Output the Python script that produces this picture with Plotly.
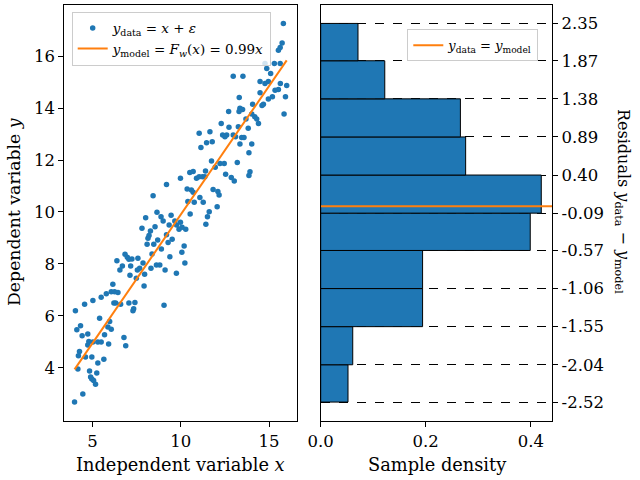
import plotly.graph_objects as go

# ---------------- data ----------------
x_data = [15.81, 15.74, 15.63, 15.53, 14.77, 14.87, 15.30, 15.63, 12.97, 13.52,
          15.09, 14.96, 14.77, 14.49, 15.64, 16.00, 15.34, 15.53, 14.49, 15.19,
          14.96, 15.93, 13.31, 14.68, 14.60, 15.85, 14.07, 12.71, 13.35, 13.50,
          13.30, 14.02, 14.19, 14.30, 14.40, 13.69, 12.29, 12.73, 13.26, 13.82,
          11.04, 11.65, 12.37, 12.60, 12.50, 12.97, 13.10, 13.45, 13.58, 14.02,
          13.35, 11.14, 11.46, 11.78,
          13.86, 11.74, 12.22, 12.46, 13.20, 11.95, 13.92, 13.86, 11.40, 10.51,
          10.70, 9.98, 10.89, 11.04, 11.23, 11.36, 12.54, 12.86, 13.03, 9.19,
          10.36, 10.60, 10.70, 11.83, 12.10, 12.17, 8.43, 11.08, 10.40, 10.76,
          11.27, 12.06, 11.61, 10.53, 8.65, 8.88, 9.00, 9.45, 8.01, 11.51,
          11.42, 9.66, 9.76, 9.34, 9.98, 10.07, 10.28, 9.90, 7.80, 8.28,
          8.20, 8.14, 8.54, 9.19, 9.51, 9.28, 8.69, 8.47, 8.09, 8.90,
          10.19, 10.06, 8.37, 9.38, 6.84, 6.97, 7.06, 7.23, 6.38, 7.57,
          7.86, 10.23, 6.69, 7.16, 6.55, 8.62, 8.81, 7.67, 7.54, 7.95,
          9.11, 8.31, 7.12, 9.75, 7.48, 6.15, 7.92, 6.06, 6.25, 6.44,
          5.78, 5.49, 5.02,
          9.05, 4.03, 4.55, 6.21, 6.31, 6.59, 7.06, 7.40, 7.33, 7.29,
          5.40, 5.97, 4.32, 4.11, 4.41, 4.73, 5.87, 6.06, 5.68, 6.78,
          4.79, 5.02, 5.30, 5.49, 4.73, 5.91, 6.88, 4.26, 4.20, 4.60,
          4.96, 5.64, 5.30, 4.17, 4.83, 5.24, 4.89, 4.96, 5.06, 5.17,
          4.45, 3.98]
y_data = [17.26, 16.51, 16.33, 16.23, 15.72, 15.53, 15.72, 15.72, 15.23, 15.23,
          15.33, 15.02, 14.95, 15.02, 14.95, 14.87, 14.69, 14.72, 14.59, 14.44,
          14.35, 14.44, 14.41, 14.15, 14.10, 13.77, 14.15, 13.87, 13.99, 13.95,
          13.87, 13.77, 13.67, 13.58, 13.41, 13.58, 13.41, 13.26, 13.28, 13.22,
          13.03, 13.09, 12.96, 12.96, 12.90, 12.96, 12.90, 12.87, 12.87, 12.62,
          12.62, 12.48, 12.67, 12.70,
          12.28, 11.96, 11.87, 11.87, 11.91, 11.72, 11.55, 11.40, 11.58, 11.52,
          11.56, 11.30, 11.30, 11.36, 11.36, 11.36, 11.45, 11.33, 11.19, 11.06,
          10.88, 10.85, 10.76, 10.87, 10.79, 10.65, 10.62, 10.56, 10.40, 10.37,
          10.37, 10.20, 10.01, 9.92, 9.99, 9.82, 9.65, 9.87, 9.78, 9.82,
          9.53, 9.65, 9.50, 9.50, 9.60, 9.41, 9.33, 9.33, 9.37, 9.27,
          9.09, 8.99, 9.43, 9.12, 8.95, 8.82, 8.92, 8.76, 8.76, 8.57,
          8.69, 8.45, 8.38, 8.28, 8.37, 8.26, 8.18, 8.19, 8.12, 8.22,
          8.03, 8.03, 7.92, 7.92, 7.77, 7.96, 7.96, 7.83, 7.77, 7.60,
          7.77, 7.83, 7.56, 7.64, 7.45, 7.22, 7.15, 6.93, 6.93, 6.90,
          6.85, 6.72, 6.59,
          6.41, 6.20, 6.45, 6.49, 6.49, 6.45, 6.49, 6.51, 6.27, 6.20,
          5.91, 5.78, 5.62, 5.46, 5.23, 5.30, 5.57, 5.48, 5.27, 5.17,
          5.01, 4.99, 4.99, 4.99, 4.88, 4.92, 4.85, 4.63, 4.46, 4.41,
          4.41, 4.33, 4.18, 3.95, 3.88, 3.80, 3.64, 3.57, 3.51, 3.37,
          2.99, 2.68]
slope = 0.99

bin_edges = [-2.52, -2.04, -1.55, -1.06, -0.57, -0.09, 0.40, 0.89, 1.38, 1.87, 2.35]
bin_labels = ["-2.52", "-2.04", "-1.55", "-1.06", "-0.57", "-0.09",
              "0.40", "0.89", "1.38", "1.87", "2.35"]
densities = [0.052, 0.061, 0.194, 0.194, 0.399, 0.420, 0.276, 0.266, 0.122, 0.071]

# ---------------- styling ----------------
FONT = "DejaVu Serif"
BLUE = "#1f77b4"
ORANGE = "#ff7f0e"
W, H = 640, 480

def px_x(p):
    return p / W

def px_y(p):
    return (H - p) / H

fig = go.Figure()

x_min, x_max = min(x_data), max(x_data)
fig.add_trace(go.Scatter(
    x=x_data, y=y_data, mode="markers",
    marker=dict(color=BLUE, size=5.5),
    name="<i>y</i><sub>data</sub> = <i>x</i> + <i>ε</i>",
    xaxis="x", yaxis="y", legend="legend"))
fig.add_trace(go.Scatter(
    x=[x_min, x_max], y=[slope * x_min, slope * x_max], mode="lines",
    line=dict(color=ORANGE, width=2),
    name="<i>y</i><sub>model</sub> = <i>F</i><sub><i>w</i></sub>(<i>x</i>) = 0.99<i>x</i>",
    xaxis="x", yaxis="y", legend="legend"))

centers = [(bin_edges[i] + bin_edges[i + 1]) / 2 for i in range(len(densities))]
widths = [bin_edges[i + 1] - bin_edges[i] for i in range(len(densities))]
fig.add_trace(go.Bar(
    y=centers, x=densities, width=widths, orientation="h",
    marker=dict(color=BLUE, line=dict(color="black", width=1)),
    showlegend=False, xaxis="x2", yaxis="y2"))

xr2 = max(densities) * 1.05
fig.add_trace(go.Scatter(
    x=[0, xr2], y=[0, 0], mode="lines",
    line=dict(color=ORANGE, width=2),
    name="<i>y</i><sub>data</sub> = <i>y</i><sub>model</sub>",
    xaxis="x2", yaxis="y2", legend="legend2"))

ydom = [px_y(421), px_y(4.5)]
axis_common = dict(showline=True, linecolor="black", linewidth=1, mirror=True,
                   ticks="outside", ticklen=5, tickwidth=1, tickcolor="black",
                   showgrid=False, zeroline=False, automargin=False,
                   tickfont=dict(family=FONT, size=16.5, color="black"))

span = max(bin_edges) - min(bin_edges)
fig.update_layout(
    template="none",
    width=W, height=H,
    margin=dict(l=0, r=0, t=0, b=0, pad=0),
    paper_bgcolor="white", plot_bgcolor="white",
    font=dict(family=FONT, size=16, color="black"),
    xaxis=dict(domain=[px_x(64.3), px_x(297.3)], range=[3.4, 16.6],
               tickvals=[5, 10, 15], anchor="y", **axis_common),
    yaxis=dict(domain=ydom, range=[1.95, 17.99],
               tickvals=[4, 6, 8, 10, 12, 14, 16], anchor="x", **axis_common),
    xaxis2=dict(domain=[px_x(320.7), px_x(552.3)], range=[0, xr2],
                tickvals=[0.0, 0.2, 0.4], ticktext=["0.0", "0.2", "0.4"],
                anchor="y2", **axis_common),
    yaxis2=dict(domain=ydom,
                range=[min(bin_edges) - 0.05 * span, max(bin_edges) + 0.05 * span],
                tickvals=bin_edges, ticktext=bin_labels, side="right",
                anchor="x2",
                **{**axis_common, "showgrid": True},
                gridcolor="black", griddash="dash", gridwidth=1),
    legend=dict(x=px_x(71.7), y=px_y(11.7), xanchor="left", yanchor="top",
                bgcolor="rgba(255,255,255,0.8)", bordercolor="#cccccc",
                borderwidth=1, font=dict(family=FONT, size=13.5, color="black"),
                tracegroupgap=0),
    legend2=dict(x=px_x(407.3), y=px_y(29.3), xanchor="left", yanchor="top",
                 bgcolor="rgba(255,255,255,0.8)", bordercolor="#cccccc",
                 borderwidth=1, font=dict(family=FONT, size=13, color="black")),
    showlegend=True,
    annotations=[
        dict(text="Independent variable <i>x</i>", x=px_x(180.8), y=px_y(464),
             xref="paper", yref="paper", showarrow=False,
             xanchor="center", yanchor="middle", font=dict(size=17.8)),
        dict(text="Sample density", x=px_x(436.5), y=px_y(464),
             xref="paper", yref="paper", showarrow=False,
             xanchor="center", yanchor="middle", font=dict(size=17.8)),
        dict(text="Dependent variable <i>y</i>", x=px_x(14), y=px_y(212),
             xref="paper", yref="paper", showarrow=False, textangle=-90,
             xanchor="center", yanchor="middle", font=dict(size=17.3)),
        dict(text="Residuals <i>y</i><sub>data</sub> − <i>y</i><sub>model</sub>",
             x=px_x(622), y=px_y(201),
             xref="paper", yref="paper", showarrow=False, textangle=90,
             xanchor="center", yanchor="middle", font=dict(size=16)),
    ],
)

fig.write_html("out.html")
